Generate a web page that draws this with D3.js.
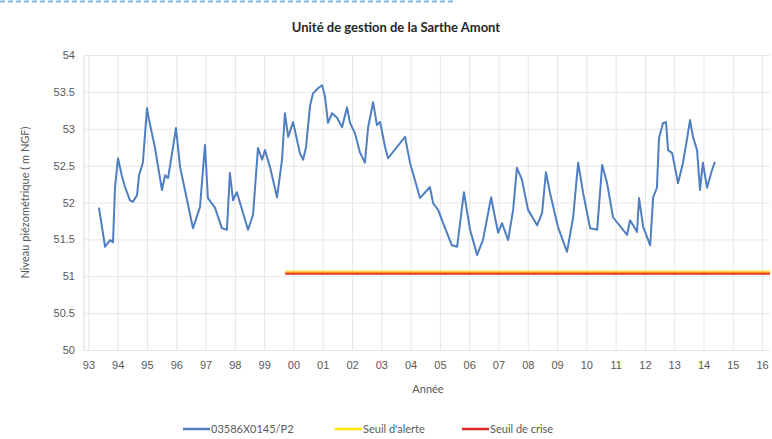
<!DOCTYPE html>
<html>
<head>
<meta charset="utf-8">
<script src="https://cdn.jsdelivr.net/npm/d3@7"></script>
<style>
  html, body { margin: 0; padding: 0; background: #fff; }
  svg { display: block; font-family: Lato, "Open Sans", sans-serif; }
</style>
</head>
<body>
<div id="chart"></div>
<script>
// Piezometer 03586X0145/P2 (decimal year, m NGF)
const years = [
  1993.36, 1993.57, 1993.74, 1993.84, 1993.91, 1994.01, 1994.15, 1994.25, 1994.42, 1994.52,
  1994.66, 1994.73, 1994.86, 1995.00, 1995.07, 1995.27, 1995.51, 1995.62, 1995.72, 1995.89,
  1995.99, 1996.13, 1996.37, 1996.57, 1996.81, 1996.98, 1997.08, 1997.32, 1997.56, 1997.73,
  1997.83, 1997.94, 1998.07, 1998.18, 1998.45, 1998.62, 1998.79, 1998.93, 1999.03, 1999.20,
  1999.44, 1999.61, 1999.71, 1999.82, 1999.99, 2000.12, 2000.22, 2000.33, 2000.43, 2000.57,
  2000.67, 2000.84, 2000.98, 2001.08, 2001.18, 2001.32, 2001.49, 2001.66, 2001.83, 2001.93,
  2002.10, 2002.27, 2002.44, 2002.55, 2002.72, 2002.85, 2002.96, 2003.13, 2003.23, 2003.81,
  2003.98, 2004.32, 2004.66, 2004.77, 2004.94, 2005.11, 2005.41, 2005.59, 2005.82, 2006.03,
  2006.27, 2006.47, 2006.75, 2006.88, 2006.99, 2007.12, 2007.33, 2007.50, 2007.63, 2007.80,
  2008.01, 2008.32, 2008.49, 2008.62, 2008.76, 2009.03, 2009.34, 2009.55, 2009.72, 2009.89,
  2010.13, 2010.37, 2010.54, 2010.71, 2010.91, 2011.39, 2011.49, 2011.60, 2011.73, 2011.80,
  2011.94, 2012.18, 2012.28, 2012.41, 2012.48, 2012.62, 2012.72, 2012.79, 2012.93, 2013.13,
  2013.30, 2013.44, 2013.54, 2013.64, 2013.78, 2013.88, 2013.98, 2014.12, 2014.29, 2014.39
];
const levels = [
  51.93, 51.40, 51.49, 51.46, 52.21, 52.60, 52.35, 52.21, 52.03, 52.01,
  52.10, 52.37, 52.54, 53.28, 53.12, 52.75, 52.17, 52.37, 52.33, 52.75,
  53.01, 52.48, 52.03, 51.65, 51.94, 52.78, 52.06, 51.93, 51.65, 51.63,
  52.40, 52.03, 52.14, 51.99, 51.63, 51.83, 52.74, 52.58, 52.71, 52.48,
  52.07, 52.58, 53.21, 52.89, 53.09, 52.85, 52.67, 52.58, 52.75, 53.32,
  53.48, 53.55, 53.59, 53.43, 53.08, 53.21, 53.15, 53.02, 53.29, 53.08,
  52.94, 52.68, 52.54, 53.02, 53.36, 53.05, 53.09, 52.75, 52.60, 52.89,
  52.54, 52.06, 52.21, 51.99, 51.90, 51.72, 51.42, 51.40, 52.14, 51.63,
  51.29, 51.49, 52.07, 51.80, 51.59, 51.72, 51.49, 51.90, 52.47, 52.31,
  51.90, 51.69, 51.86, 52.41, 52.13, 51.67, 51.33, 51.80, 52.54, 52.13,
  51.65, 51.63, 52.51, 52.26, 51.80, 51.56, 51.76, 51.69, 51.60, 52.06,
  51.67, 51.42, 52.07, 52.20, 52.87, 53.08, 53.09, 52.71, 52.67, 52.26,
  52.54, 52.87, 53.12, 52.89, 52.71, 52.17, 52.54, 52.20, 52.44, 52.55
];

const thresholdStart = 1999.72;
const seuilAlerte = 51.06;
const seuilCrise  = 51.04;

const yTicks = [50, 50.5, 51, 51.5, 52, 52.5, 53, 53.5, 54];
const xTickYears = d3.range(1993, 2017);

const W = 772, H = 439;
const plot = { left: 84, right: 770, top: 55, bottom: 350 };

const BLUE   = "#4f7fc0";
const YELLOW = "#ffe400";
const RED    = "#e3262a";
const GRID   = "#e6e6e6";
const TEXT   = "#595959";

const svg = d3.select("#chart").append("svg")
  .attr("width", W).attr("height", H);

// dashed strip at the very top
svg.append("line")
  .attr("x1", 0).attr("x2", 455).attr("y1", 1.5).attr("y2", 1.5)
  .attr("stroke", "#7cb9ea").attr("stroke-width", 2)
  .attr("stroke-dasharray", "5 3");

// Scales
const x = d3.scaleLinear()
  .domain([1992.85, 2016.27])
  .range([plot.left, plot.right]);

const y = d3.scaleLinear()
  .domain([50, 54])
  .range([plot.bottom, plot.top]);

// Grid
const yAxis = d3.axisLeft(y)
  .tickValues(yTicks)
  .tickFormat(d => String(d))
  .tickSize(-(plot.right - plot.left))
  .tickPadding(9);

const gy = svg.append("g")
  .attr("transform", `translate(${plot.left},0)`)
  .call(yAxis);
gy.selectAll(".tick line").attr("stroke", GRID);
gy.selectAll(".tick text").attr("fill", TEXT).attr("font-size", 11);

const xAxis = d3.axisBottom(x)
  .tickValues(xTickYears)
  .tickFormat(d => String(d % 100).padStart(2, "0"))
  .tickSize(-(plot.bottom - plot.top))
  .tickPadding(11);

const gx = svg.append("g")
  .attr("transform", `translate(0,${plot.bottom})`)
  .call(xAxis);
gx.selectAll(".tick line").attr("stroke", GRID);
gx.selectAll(".tick text").attr("fill", TEXT).attr("font-size", 11);

svg.selectAll(".domain").remove();

svg.append("line")
  .attr("x1", plot.left).attr("x2", plot.left)
  .attr("y1", plot.top).attr("y2", plot.bottom)
  .attr("stroke", "#d9d9d9");

// Thresholds (they almost overlap, which gives the orange look)
const xEnd = x.domain()[1];
svg.append("line")
  .attr("x1", x(thresholdStart)).attr("x2", x(xEnd))
  .attr("y1", y(seuilCrise)).attr("y2", y(seuilCrise))
  .attr("stroke", RED).attr("stroke-width", 3);

svg.append("line")
  .attr("x1", x(thresholdStart)).attr("x2", x(xEnd))
  .attr("y1", y(seuilAlerte)).attr("y2", y(seuilAlerte))
  .attr("stroke", YELLOW).attr("stroke-width", 3)
  .attr("stroke-opacity", 0.6);

// Series
const series = years.map((yr, i) => ({ year: yr, value: levels[i] }));
const line = d3.line()
  .x(d => x(d.year))
  .y(d => y(d.value));

svg.append("path")
  .datum(series)
  .attr("fill", "none")
  .attr("stroke", BLUE)
  .attr("stroke-width", 2)
  .attr("stroke-linejoin", "round")
  .attr("d", line);

// Title & axis titles
svg.append("text")
  .attr("x", 396).attr("y", 32)
  .attr("text-anchor", "middle")
  .attr("font-size", 13).attr("font-weight", 700).attr("fill", "#262626")
  .text("Unité de gestion de la Sarthe Amont");

svg.append("text")
  .attr("transform", `translate(29,${(plot.top + plot.bottom) / 2}) rotate(-90)`)
  .attr("text-anchor", "middle")
  .attr("font-size", 11).attr("fill", TEXT)
  .text("Niveau piézométrique ( m NGF)");

svg.append("text")
  .attr("x", 428).attr("y", 393)
  .attr("text-anchor", "middle")
  .attr("font-size", 11).attr("fill", TEXT)
  .text("Année");

// Legend
const legendItems = [
  { label: "03586X0145/P2", color: BLUE,   x: 183 },
  { label: "Seuil d'alerte", color: YELLOW, x: 335 },
  { label: "Seuil de crise", color: RED,    x: 462 }
];
const lg = svg.append("g").attr("transform", "translate(0,433)");
legendItems.forEach(d => {
  lg.append("line")
    .attr("x1", d.x).attr("x2", d.x + 27)
    .attr("y1", -4).attr("y2", -4)
    .attr("stroke", d.color).attr("stroke-width", 2.5);
  lg.append("text")
    .attr("x", d.x + 28).attr("y", 0)
    .attr("font-size", 11).attr("fill", TEXT)
    .text(d.label);
});
</script>
</body>
</html>
